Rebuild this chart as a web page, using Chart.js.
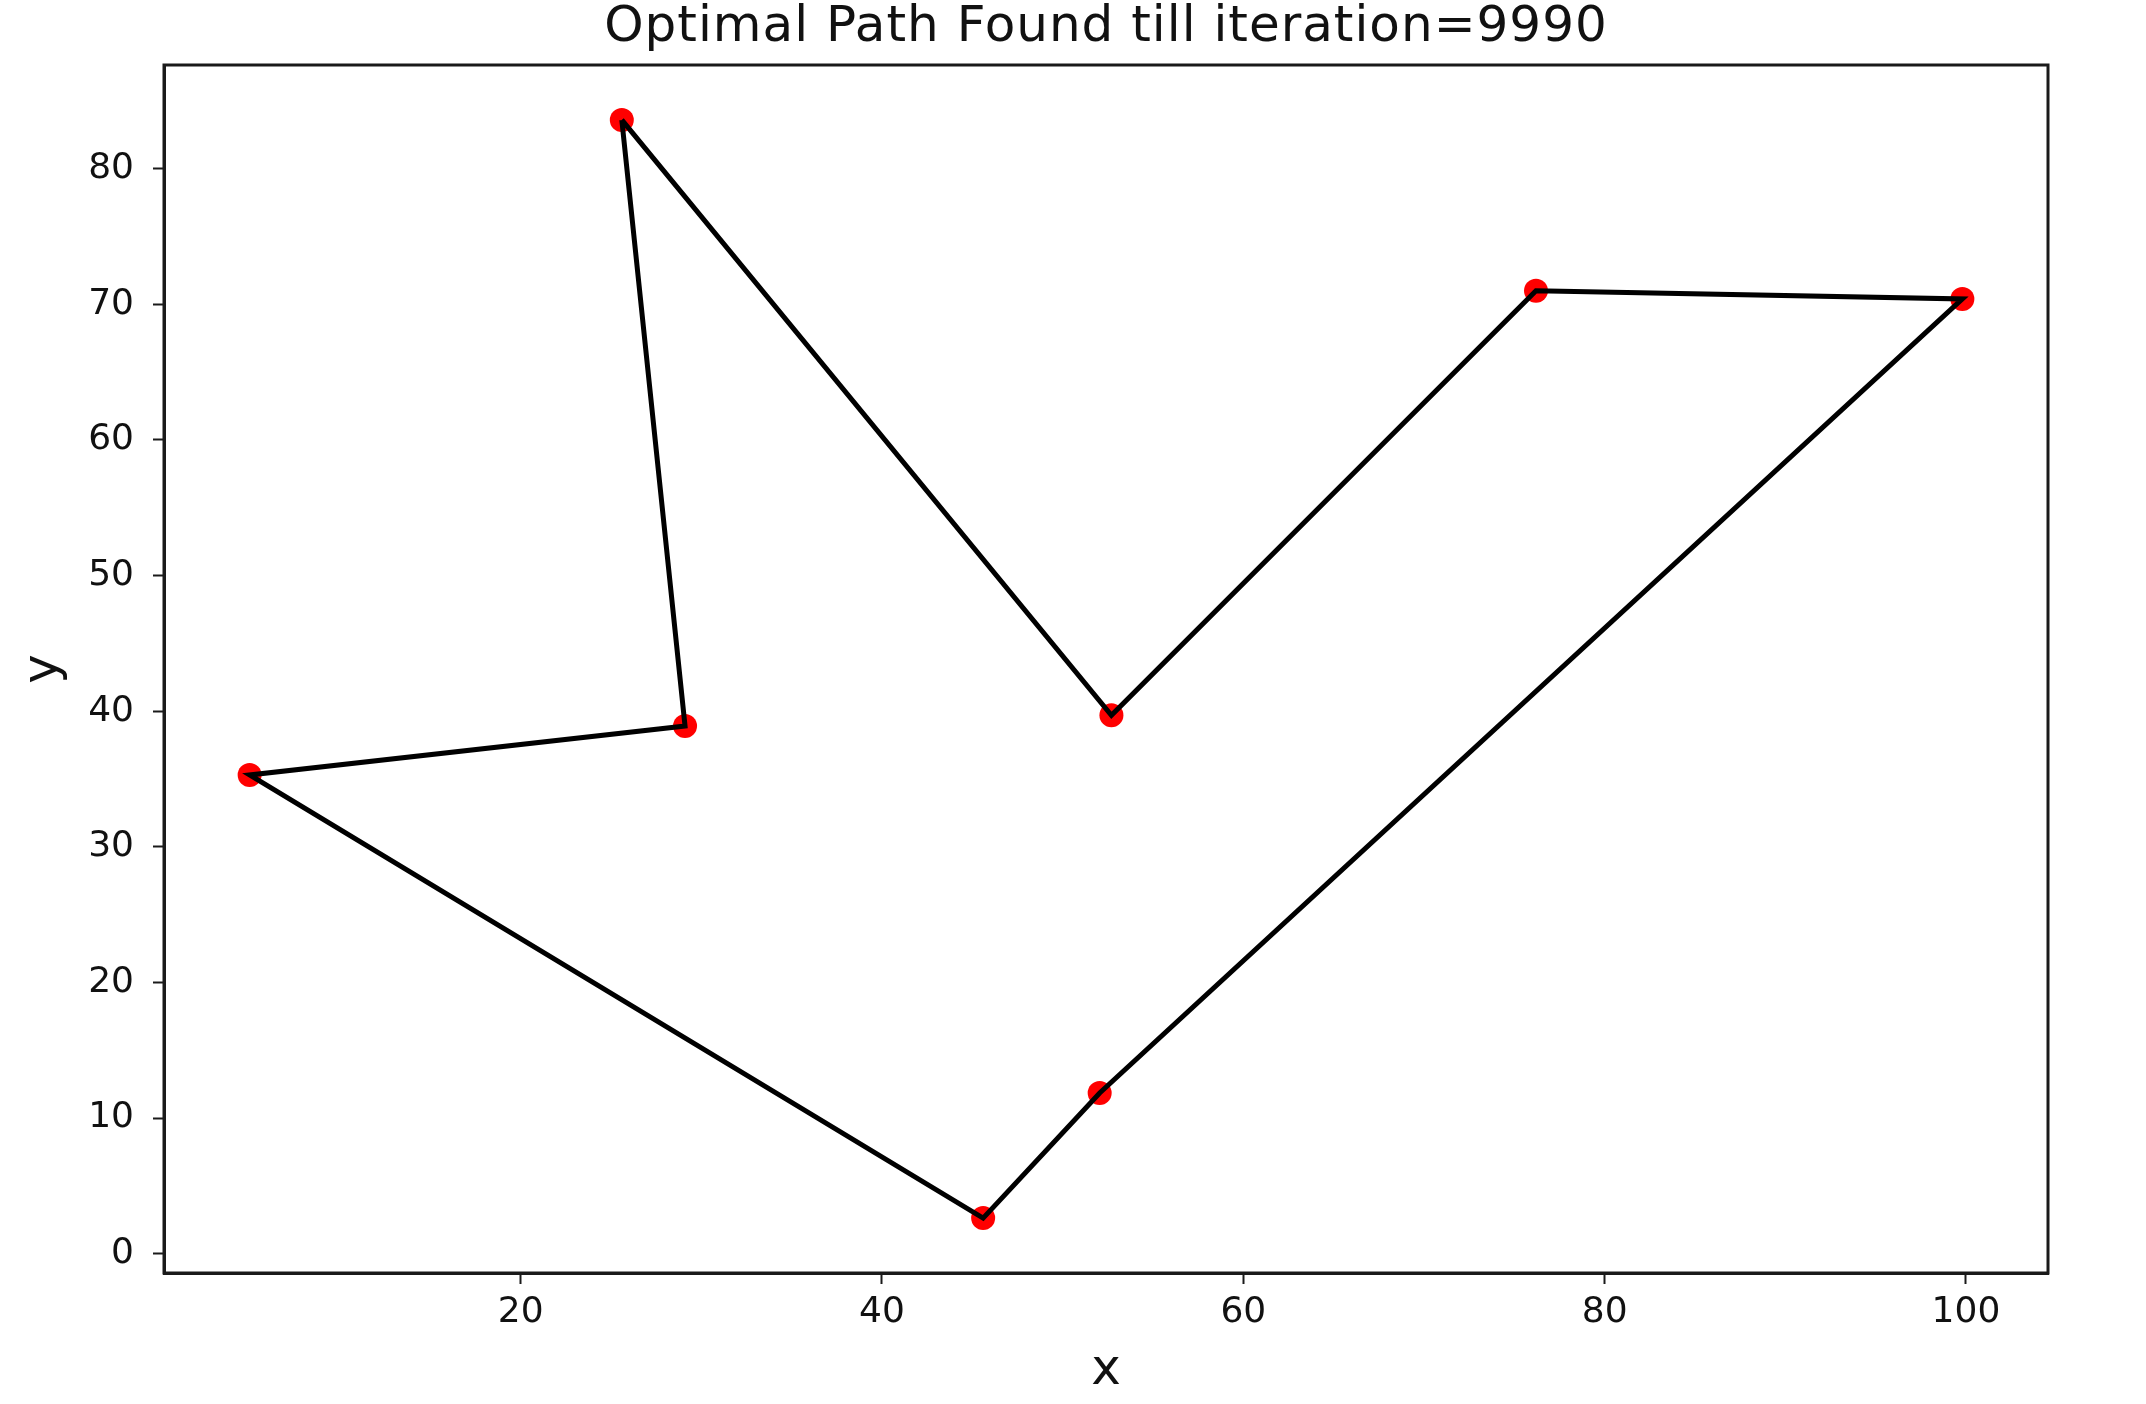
<!DOCTYPE html>
<html lang="en">
<head>
    <meta charset="UTF-8">
    <title>Optimal Path</title>
    <script src="https://cdn.jsdelivr.net/npm/chart.js"></script>
    <style>
        html, body { margin: 0; padding: 0; background: #fff; }
        #wrap { width: 2146px; height: 1404px; }
    </style>
</head>
<body>
    <div id="wrap"><canvas id="pathChart" width="2146" height="1404"></canvas></div>

    <script>
        // city coordinates, in visiting order (the tour closes back on the first one)
        const cityX = [25.6, 29.1, 5.0, 45.6, 52.05, 99.8, 76.2, 52.7];
        const cityY = [83.6, 38.9, 35.3, 2.62, 11.85, 70.4, 71.0, 39.7];

        const xTicks = [20, 40, 60, 80, 100];
        const yTicks = [0, 10, 20, 30, 40, 50, 60, 70, 80];

        const titleText = 'Optimal Path Found till iteration=9990';

        const points = cityX.map((x, i) => ({ x: x, y: cityY[i] }));
        const tour = points.concat([points[0]]);

        // matplotlib style 5% margins around the data
        function padRange(vals) {
            const lo = Math.min(...vals), hi = Math.max(...vals);
            const m = (hi - lo) * 0.05;
            return [lo - m, hi + m];
        }
        const [xMin, xMax] = padRange(cityX);
        const [yMin, yMax] = padRange(cityY);

        const font = 'DejaVu Sans';

        // frame on all four sides plus the title over the plot area
        const framePlugin = {
            id: 'frame',
            afterDraw(chart) {
                const { ctx, chartArea: a } = chart;
                ctx.save();
                ctx.strokeStyle = '#1a1a1a';
                ctx.lineWidth = 3;
                ctx.strokeRect(a.left, a.top, a.right - a.left, a.bottom - a.top);

                ctx.fillStyle = '#111';
                ctx.font = '50px "' + font + '"';
                ctx.textAlign = 'center';
                ctx.textBaseline = 'alphabetic';
                if ('letterSpacing' in ctx) ctx.letterSpacing = '1px';
                ctx.fillText(titleText, (a.left + a.right) / 2, 41);
                ctx.restore();
            }
        };

        new Chart(document.getElementById('pathChart'), {
            type: 'scatter',
            data: {
                datasets: [
                    {
                        type: 'line',
                        data: tour,
                        borderColor: '#000',
                        borderWidth: 5,
                        pointRadius: 0,
                        fill: false,
                        tension: 0,
                        order: 1
                    },
                    {
                        data: points,
                        backgroundColor: '#ff0000',
                        borderWidth: 0,
                        pointRadius: 12,
                        order: 2
                    }
                ]
            },
            options: {
                responsive: false,
                animation: false,
                devicePixelRatio: 1,
                layout: { padding: { left: 0, right: 98, top: 65, bottom: 0 } },
                plugins: {
                    legend: { display: false },
                    tooltip: { enabled: false }
                },
                scales: {
                    x: {
                        type: 'linear',
                        min: xMin,
                        max: xMax,
                        afterFit: s => { s.height = 131; },
                        afterBuildTicks: s => { s.ticks = xTicks.map(v => ({ value: v })); },
                        grid: { drawOnChartArea: false, drawTicks: true, tickLength: 11, tickColor: '#1a1a1a', tickWidth: 2 },
                        border: { display: true, color: '#1a1a1a', width: 3 },
                        ticks: { color: '#111', padding: 7, font: { family: font, size: 36 } },
                        title: { display: true, text: 'x', color: '#111', padding: { top: 0, bottom: 3 }, font: { family: font, size: 50 } }
                    },
                    y: {
                        type: 'linear',
                        min: yMin,
                        max: yMax,
                        afterFit: s => { s.width = 164; },
                        afterBuildTicks: s => { s.ticks = yTicks.map(v => ({ value: v })); },
                        grid: { drawOnChartArea: false, drawTicks: true, tickLength: 11, tickColor: '#1a1a1a', tickWidth: 2 },
                        border: { display: true, color: '#1a1a1a', width: 3 },
                        ticks: { color: '#111', padding: 19, font: { family: font, size: 36 } },
                        title: { display: true, text: 'y', color: '#111', padding: { top: 14, bottom: 0 }, font: { family: font, size: 50 } }
                    }
                }
            },
            plugins: [framePlugin]
        });
    </script>
</body>
</html>
